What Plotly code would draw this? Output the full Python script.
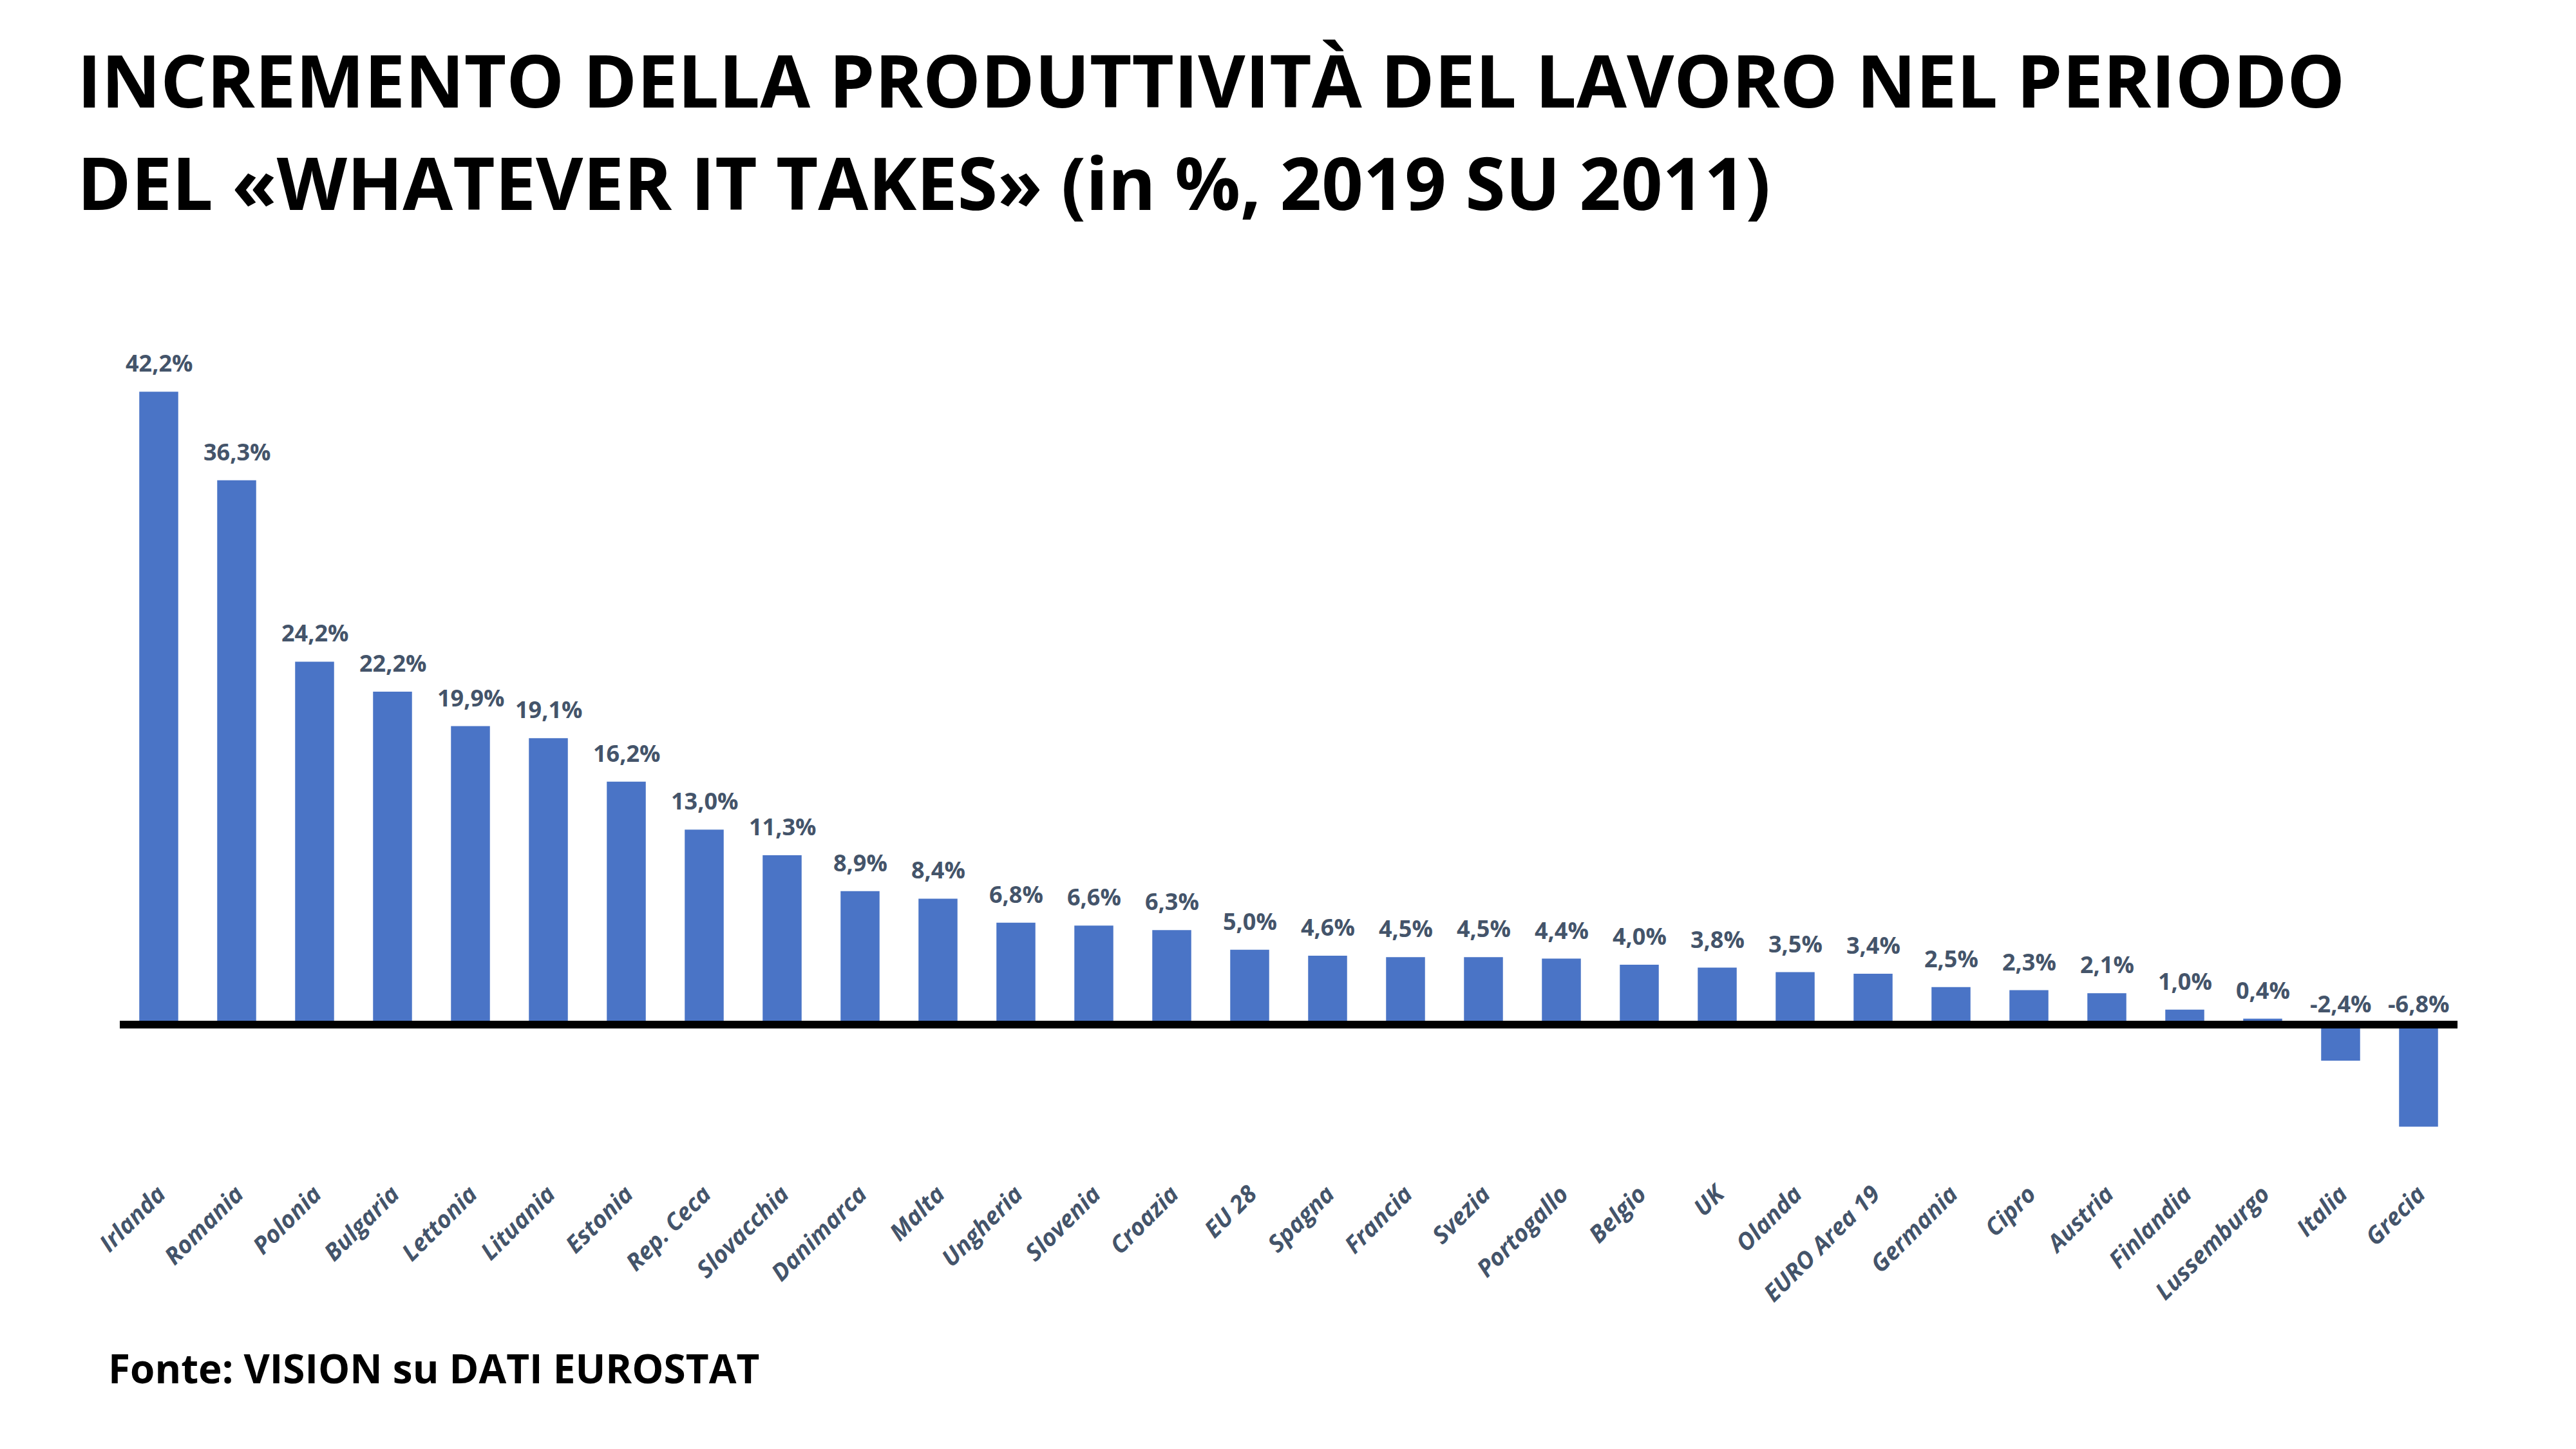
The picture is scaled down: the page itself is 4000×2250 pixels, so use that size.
import plotly.graph_objects as go

# ---- data ----
countries = ["Irlanda", "Romania", "Polonia", "Bulgaria", "Lettonia", "Lituania", "Estonia",
             "Rep. Ceca", "Slovacchia", "Danimarca", "Malta", "Ungheria", "Slovenia", "Croazia",
             "EU 28", "Spagna", "Francia", "Svezia", "Portogallo", "Belgio", "UK", "Olanda",
             "EURO Area 19", "Germania", "Cipro", "Austria", "Finlandia", "Lussemburgo",
             "Italia", "Grecia"]
values = [42.2, 36.3, 24.2, 22.2, 19.9, 19.1, 16.2, 13.0, 11.3, 8.9, 8.4, 6.8, 6.6, 6.3,
          5.0, 4.6, 4.5, 4.5, 4.4, 4.0, 3.8, 3.5, 3.4, 2.5, 2.3, 2.1, 1.0, 0.4, -2.4, -6.8]

title_lines = ["INCREMENTO DELLA PRODUTTIVITÀ DEL LAVORO NEL PERIODO",
               "DEL «WHATEVER IT TAKES» (in %, 2019 SU 2011)"]
source_text = "Fonte: VISION su DATI EUROSTAT"

W, H = 4000, 2250
FONT = "Open Sans"
LABEL_COLOR = "#44546A"
BAR_COLOR = "#4A74C6"

# layout geometry (pixels)
L, R = 178, 192
Y_MIN, Y_MAX = -10, 45
PX_PER_UNIT = 23.3
PLOT_BOTTOM = 1583 + (-Y_MIN) * PX_PER_UNIT
PLOT_TOP = 1583 - Y_MAX * PX_PER_UNIT
PLOT_H = PLOT_BOTTOM - PLOT_TOP
PLOT_W = W - L - R


def px_to_paper_x(px):
    return (px - L) / PLOT_W


def px_to_paper_y(py):
    return (PLOT_BOTTOM - py) / PLOT_H


fig = go.Figure()
fig.add_trace(go.Bar(
    x=countries, y=values,
    marker=dict(color=BAR_COLOR, line=dict(width=0)),
    hoverinfo="skip",
))


def fmt(v):
    return f"{v:.1f}".replace(".", ",") + "%"


annotations = []
for c, v in zip(countries, values):
    annotations.append(dict(
        x=c, y=max(v, 0), xref="x", yref="y",
        text=fmt(v), showarrow=False,
        xanchor="center", yanchor="bottom",
        yshift=18 if v >= 0 else 6,
        font=dict(family=FONT, size=36, color=LABEL_COLOR, weight="bold"),
    ))

# title (two lines)
for line, bottom_px in zip(title_lines, [193, 352]):
    annotations.append(dict(
        x=px_to_paper_x(110), y=px_to_paper_y(bottom_px), xref="paper", yref="paper",
        text=line, showarrow=False, xanchor="left", yanchor="bottom",
        font=dict(family=FONT, size=113, color="black", weight="bold"),
    ))

annotations.append(dict(
    x=px_to_paper_x(158), y=px_to_paper_y(2160), xref="paper", yref="paper",
    text=source_text, showarrow=False, xanchor="left", yanchor="bottom",
    font=dict(family=FONT, size=62, color="black", weight="bold"),
))

fig.update_layout(
    width=W, height=H,
    margin=dict(l=L, r=R, t=PLOT_TOP, b=H - PLOT_BOTTOM, pad=0),
    paper_bgcolor="white", plot_bgcolor="white",
    showlegend=False,
    bargap=0.5,
    xaxis=dict(
        showgrid=False, showline=False, zeroline=False, ticks="",
        tickangle=-45,
        tickfont=dict(family=FONT, size=37, color=LABEL_COLOR, weight="bold", style="italic"),
    ),
    yaxis=dict(
        range=[Y_MIN, Y_MAX], showgrid=False, showline=False, zeroline=False,
        showticklabels=False, ticks="",
    ),
    annotations=annotations,
    shapes=[dict(type="line", xref="paper", yref="y", x0=0, x1=1, y0=0, y1=0,
                 line=dict(color="black", width=12), layer="above")],
)

fig.write_html("out.html")
